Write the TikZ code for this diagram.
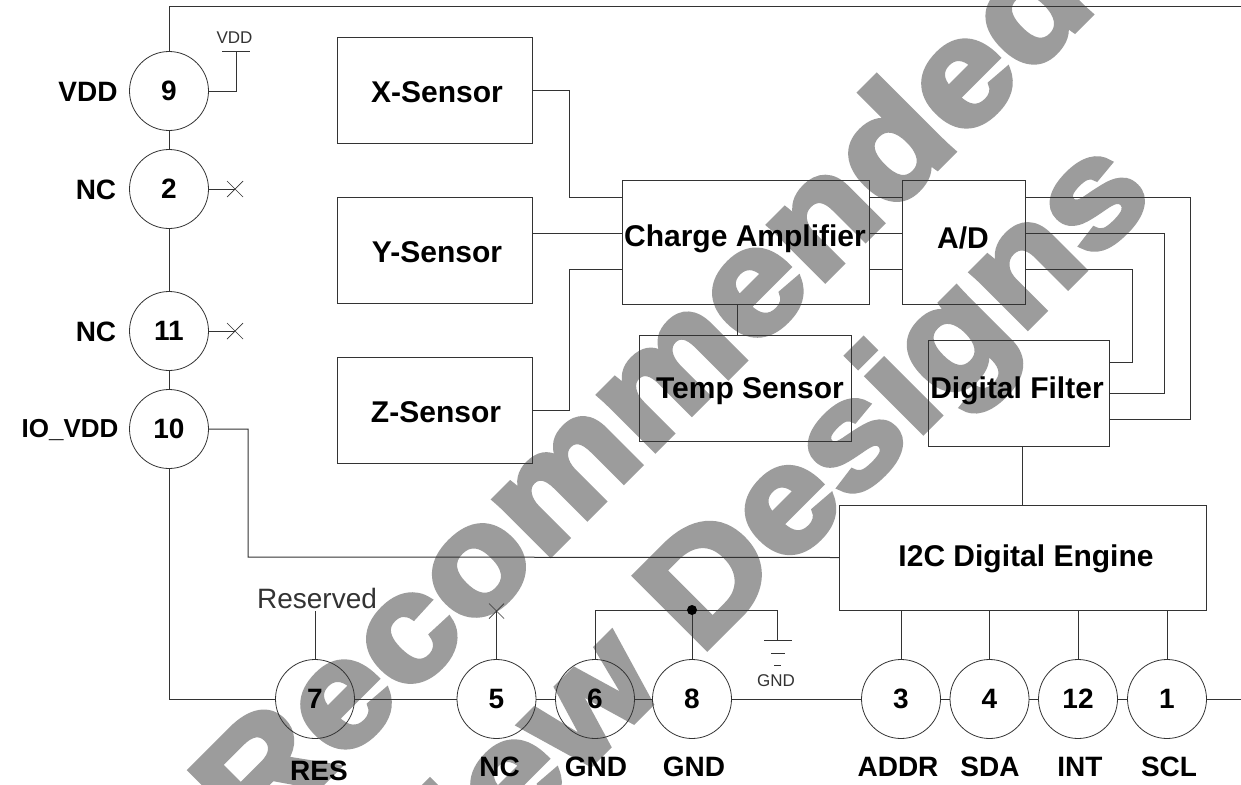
\documentclass[tikz,border=0pt]{standalone}
\usepackage{fontspec}
\setmainfont{Liberation Sans}
\newfontfamily\wmfont[FakeBold=4,FakeStretch=1.124]{Liberation Sans Bold}
\definecolor{ln}{HTML}{333333}
\definecolor{wm}{HTML}{9C9C9C}
\tikzset{
  x=1pt,y=-1pt,
  every node/.style={inner sep=0pt,outer sep=0pt},
  wire/.style={draw=ln,line width=1pt},
  thin wire/.style={draw=ln,line width=0.7pt},
  pin/.style={circle,draw=ln,line width=0.8pt,minimum size=79pt,font=\fontsize{28}{30}\bfseries\selectfont,text=black},
  box/.style={rectangle,draw=ln,line width=1pt},
  blk/.style={font=\fontsize{30}{32}\bfseries\selectfont,text=black},
  lab/.style={font=\fontsize{28}{30}\bfseries\selectfont,text=black},
  note/.style={text=ln},
  wmk/.style={rotate=45,anchor=base west,text=wm,font=\fontsize{148}{150}\wmfont}
}
\begin{document}
\begin{tikzpicture}
\useasboundingbox (0,0) rectangle (1241,784);
\fill[white] (0,0) rectangle (1241,784);
\begin{scope}
\clip (0,0) rectangle (1241,784);
\node[wmk] (wm1) at (255,850) {Recommended};
\node[wmk] (wm2) at (425,930) {New Designs};
\end{scope}
% pins
\node[pin] (c9) at (169,91) {9};
\node[pin] (c2) at (169,189) {2};
\node[pin] (c11) at (169,331) {11};
\node[pin] (c10) at (169,429) {10};
\node[pin] (c7) at (315,699) {7};
\node[pin] (c5) at (496.5,699) {5};
\node[pin] (c6) at (595,699) {6};
\node[pin] (c8) at (692,699) {8};
\node[pin] (c3) at (901,699) {3};
\node[pin] (c4) at (989.5,699) {4};
\node[pin] (c12) at (1078,699) {12};
\node[pin] (c1) at (1167,699) {1};
% pin labels
\node[lab] (l9) at (88,92) {VDD};
\node[lab] (l2) at (96,190) {NC};
\node[lab] (l11) at (96,332) {NC};
\node[lab,font=\fontsize{26}{28}\bfseries\selectfont] (l10) at (70,430) {IO\_VDD};
\node[lab] (l7) at (319,771) {RES};
\node[lab] (l5) at (499.5,767) {NC};
\node[lab] (l6) at (596,767) {GND};
\node[lab] (l8) at (694,767) {GND};
\node[lab] (l3) at (898,767) {ADDR};
\node[lab] (l4) at (990,767) {SDA};
\node[lab] (l12) at (1080,767) {INT};
\node[lab] (l1) at (1169,767) {SCL};
% blocks
\node[box,minimum width=195pt,minimum height=105pt] (xs) at (434.5,90.5) {};
\node[box,minimum width=195pt,minimum height=106pt] (ys) at (434.5,250) {};
\node[box,minimum width=195pt,minimum height=106pt] (zs) at (434.5,410) {};
\node[box,minimum width=247pt,minimum height=124pt] (chg) at (745.5,242) {};
\node[box,minimum width=123pt,minimum height=124pt] (ad) at (963.5,242) {};
\node[box,minimum width=212pt,minimum height=106pt] (tmp) at (745,388) {};
\node[box,minimum width=181pt,minimum height=106pt] (flt) at (1018.5,393) {};
\node[box,minimum width=367pt,minimum height=105pt] (eng) at (1022.5,557.5) {};
\node[blk] (txs) at (437,92) {X-Sensor};
\node[blk] (tys) at (437,252) {Y-Sensor};
\node[blk] (tzs) at (436,412) {Z-Sensor};
\node[blk] (tchg) at (745,239) {Charge Amplifier};
\node[blk] (tad) at (963,238) {A/D};
\node[blk] (ttmp) at (750,391) {Temp Sensor};
\node[blk] (tflt) at (1017,391) {Digital Filter};
\node[blk] (teng) at (1026,559) {I2C Digital Engine};
% small notes
\node[note,font=\fontsize{17}{18}\selectfont] (nvdd) at (234.5,38) {VDD};
\node[note,font=\fontsize{28}{29}\selectfont] (nres) at (317,598) {Reserved};
\node[note,font=\fontsize{17}{18}\selectfont] (ngnd) at (776,681) {GND};
% free ends and port rows
\coordinate (tr) at (1241,7);
\coordinate (tl) at (169,7);
\coordinate (vb) at (236,52);
\coordinate (x2) at (235,189);
\coordinate (x11) at (235,331);
\coordinate (x5) at (496.5,611);
\coordinate (res) at (315,611);
\coordinate (jn) at (692,610);
\coordinate (gn) at (777,640);
\coordinate (br) at (1241,699);
\coordinate (r1) at (569,197);
\coordinate (r2) at (569,233);
\coordinate (r3) at (569,269);
\coordinate (o1) at (1190,419);
\coordinate (o2) at (1164,393);
\coordinate (o3) at (1132,362);
\coordinate (ct) at (737,304);
% rail
\draw[wire] (c9.north) -- (tl) -- (tr);
\draw[wire] (c9.south) -- (c2.north);
\draw[wire] (c2.south) -- (c11.north);
\draw[wire] (c11.south) -- (c10.north);
\draw[wire] (c10.south) |- (c7.west);
\draw[wire] (c7.east) -- (c5.west);
\draw[wire] (c5.east) -- (c6.west);
\draw[wire] (c6.east) -- (c8.west);
\draw[wire] (c8.east) -- (c3.west);
\draw[wire] (c3.east) -- (c4.west);
\draw[wire] (c4.east) -- (c12.west);
\draw[wire] (c12.east) -- (c1.west);
\draw[wire] (c1.east) -- (br);
% pin stubs
\draw[wire] (c9.east) -| (vb);
\draw[wire] (222,52) -- (250,52);
\draw[wire] (c2.east) -- (x2);
\draw[thin wire] (227,181) -- (243,197) (243,181) -- (227,197);
\draw[wire] (c11.east) -- (x11);
\draw[thin wire] (227,323) -- (243,339) (243,323) -- (227,339);
\draw[wire] (c10.east) -- (248,429) -- (248,557) -- (eng.west);
\draw[wire] (c7.north) -- (res);
\draw[wire] (c5.north) -- (x5);
\draw[thin wire] (489,603.5) -- (504,618.5) (504,603.5) -- (489,618.5);
\draw[wire] (c6.north) -- (595,610) -- (gn |- jn) -- (gn);
\draw[wire] (c8.north) -- (jn);
\fill[black] (jn) circle (5);
\draw[wire] (764,640) -- (792,640);
\draw[wire] (771,653) -- (785,653);
\draw[wire] (774,665) -- (781,665);
% sensors to amplifier
\draw[wire] (xs.east) -| (r1) -- (chg.west |- r1);
\draw[wire] (ys.east |- r2) -- (chg.west |- r2);
\draw[wire] (zs.east) -| (r3) -- (chg.west |- r3);
\draw[wire] (chg.east |- r1) -- (ad.west |- r1);
\draw[wire] (chg.east |- r2) -- (ad.west |- r2);
\draw[wire] (chg.east |- r3) -- (ad.west |- r3);
\draw[wire] (ct) -- (ct |- tmp.north);
\draw[wire] (ad.east |- r1) -| (o1) -- (flt.east |- o1);
\draw[wire] (ad.east |- r2) -| (o2) -- (flt.east |- o2);
\draw[wire] (ad.east |- r3) -| (o3) -- (flt.east |- o3);
\draw[wire] (eng.north) -- (eng.north |- flt.south);
\draw[wire] (c3.north) -- (c3.north |- eng.south);
\draw[wire] (c4.north) -- (c4.north |- eng.south);
\draw[wire] (c12.north) -- (c12.north |- eng.south);
\draw[wire] (c1.north) -- (c1.north |- eng.south);
\end{tikzpicture}
\end{document}
